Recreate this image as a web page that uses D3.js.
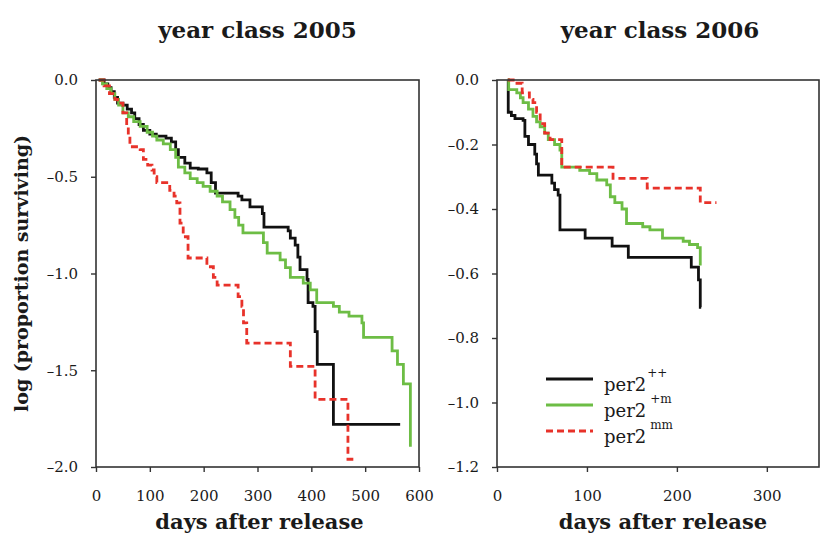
<!DOCTYPE html>
<html>
<head>
<meta charset="utf-8">
<script src="https://cdn.jsdelivr.net/npm/d3@7"></script>
<style>
  html, body { margin: 0; padding: 0; background: #fff; }
  svg { display: block; }
  text { font-family: "DejaVu Serif", "Liberation Serif", serif; fill: #1a1a1a; }
</style>
</head>
<body>
<svg id="chart" width="821" height="541"></svg>
<script>
// ---------- DATA ----------
const panelTitles = ["year class 2005", "year class 2006"];
const xLabel = "days after release";
const yLabel = "log (proportion surviving)";

const xTicks2005 = [0, 100, 200, 300, 400, 500, 600];
const yTicks2005 = [0.0, -0.5, -1.0, -1.5, -2.0];
const xTicks2006 = [0, 100, 200, 300];
const yTicks2006 = [0.0, -0.2, -0.4, -0.6, -0.8, -1.0, -1.2];

const seriesNames = ["++", "+m", "mm"];

// year class 2005 : [day, log proportion surviving] (step after)
const wt2005 = [[5,0],[15,-0.02],[22,-0.04],[28,-0.06],[34,-0.09],[40,-0.12],[50,-0.13],[58,-0.15],[66,-0.17],[72,-0.2],[80,-0.23],[88,-0.26],[100,-0.28],[112,-0.29],[130,-0.30],[140,-0.32],[148,-0.36],[153,-0.40],[165,-0.43],[175,-0.455],[190,-0.46],[206,-0.48],[214,-0.53],[222,-0.585],[264,-0.60],[271,-0.62],[286,-0.656],[309,-0.69],[312,-0.76],[357,-0.78],[361,-0.817],[370,-0.853],[375,-0.915],[379,-0.98],[392,-1.03],[394,-1.15],[403,-1.17],[407,-1.30],[411,-1.47],[441,-1.78],[565,-1.78]];
const het2005 = [[5,0],[12,-0.02],[20,-0.045],[28,-0.07],[35,-0.10],[42,-0.13],[50,-0.17],[60,-0.19],[70,-0.215],[82,-0.24],[95,-0.27],[105,-0.29],[113,-0.31],[125,-0.33],[138,-0.36],[148,-0.40],[153,-0.45],[165,-0.48],[175,-0.51],[188,-0.53],[199,-0.55],[212,-0.575],[225,-0.6],[235,-0.63],[249,-0.67],[258,-0.71],[265,-0.75],[273,-0.79],[311,-0.84],[318,-0.895],[342,-0.93],[352,-0.97],[361,-1.02],[385,-1.05],[398,-1.085],[410,-1.15],[441,-1.17],[452,-1.20],[470,-1.22],[494,-1.255],[497,-1.33],[550,-1.40],[560,-1.47],[571,-1.57],[584,-1.895]];
const mut2005 = [[5,0],[15,-0.03],[25,-0.07],[35,-0.10],[40,-0.12],[50,-0.17],[57,-0.24],[60,-0.29],[63,-0.345],[82,-0.36],[88,-0.41],[96,-0.44],[104,-0.465],[108,-0.50],[113,-0.53],[137,-0.57],[145,-0.60],[150,-0.635],[156,-0.74],[162,-0.81],[171,-0.92],[206,-0.965],[218,-1.02],[225,-1.06],[264,-1.12],[271,-1.17],[274,-1.255],[280,-1.36],[361,-1.48],[407,-1.65],[468,-1.96],[478,-1.96]];

// year class 2006
const wt2006 = [[12,0],[12.5,-0.10],[16,-0.11],[20,-0.12],[29,-0.125],[31,-0.175],[35,-0.20],[42,-0.23],[44,-0.26],[46,-0.295],[61,-0.32],[64,-0.34],[68,-0.357],[70,-0.465],[98,-0.49],[128,-0.515],[146,-0.55],[216,-0.58],[224,-0.62],[226,-0.705],[227,-0.705]];
const het2006 = [[12,0],[13,-0.03],[22,-0.04],[26,-0.055],[29,-0.07],[35,-0.09],[40,-0.113],[44,-0.13],[48,-0.145],[53,-0.165],[57,-0.185],[64,-0.20],[70,-0.217],[72,-0.27],[92,-0.28],[103,-0.29],[111,-0.31],[122,-0.325],[126,-0.362],[131,-0.38],[139,-0.40],[144,-0.445],[162,-0.455],[170,-0.465],[184,-0.49],[207,-0.50],[214,-0.51],[223,-0.52],[226,-0.575]];
const mut2006 = [[12,0],[18,-0.01],[28,-0.04],[36,-0.06],[40,-0.07],[44,-0.10],[48,-0.135],[53,-0.165],[59,-0.185],[72,-0.27],[129,-0.305],[167,-0.335],[226,-0.38],[244,-0.38]];

// ---------- STYLE ----------
const styles = {
  "++": { color: "#111111", dash: null },
  "+m": { color: "#6dbd45", dash: null },
  "mm": { color: "#e8322a", dash: "7,4" }
};

const svg = d3.select("#chart");
const yTop = 80, yBottom = 467;

const panels = [
  { title: panelTitles[0], x0: 96, x1: 419, xDomain: [0, 600], yDomain: [-2.0, 0], xTicks: xTicks2005, yTicks: yTicks2005,
    series: [["++", wt2005], ["+m", het2005], ["mm", mut2005]] },
  { title: panelTitles[1], x0: 497, x1: 819, xDomain: [0, 358], yDomain: [-1.2, 0], xTicks: xTicks2006, yTicks: yTicks2006,
    series: [["++", wt2006], ["+m", het2006], ["mm", mut2006]] }
];

panels.forEach((p, i) => {
  const x = d3.scaleLinear().domain(p.xDomain).range([p.x0, p.x1]);
  const y = d3.scaleLinear().domain(p.yDomain).range([yBottom, yTop]);
  const g = svg.append("g");

  const line = d3.line().x(d => x(d[0])).y(d => y(d[1])).curve(d3.curveStepAfter);
  p.series.forEach(([name, data]) => {
    const st = styles[name];
    g.append("path").datum(data)
      .attr("d", line)
      .attr("fill", "none")
      .attr("stroke", st.color)
      .attr("stroke-width", 2.8)
      .attr("stroke-dasharray", st.dash);
  });

  g.append("rect")
    .attr("x", p.x0).attr("y", yTop)
    .attr("width", p.x1 - p.x0).attr("height", yBottom - yTop)
    .attr("fill", "none").attr("stroke", "#333").attr("stroke-width", 1.6);

  const xAxis = d3.axisBottom(x).tickValues(p.xTicks).tickSize(5).tickPadding(18).tickFormat(d3.format("d"));
  const gx = g.append("g").attr("transform", `translate(0,${yBottom})`).call(xAxis);
  gx.select(".domain").remove();
  gx.selectAll(".tick line").attr("stroke", "#333").attr("stroke-width", 1.4);
  gx.selectAll(".tick text").attr("font-size", 15).attr("font-family", "DejaVu Serif").attr("fill", "#1a1a1a");

  const yAxis = d3.axisLeft(y).tickValues(p.yTicks).tickSize(5).tickPadding(13)
    .tickFormat(d => d3.format(".1f")(d).replace("-", "\u2013").replace("\u2212", "\u2013"));
  const gy = g.append("g").attr("transform", `translate(${p.x0},0)`).call(yAxis);
  gy.select(".domain").remove();
  gy.selectAll(".tick line").attr("stroke", "#333").attr("stroke-width", 1.4);
  gy.selectAll(".tick text").attr("font-size", 15).attr("font-family", "DejaVu Serif").attr("fill", "#1a1a1a");

  g.append("text").attr("x", (p.x0 + p.x1) / 2 + (i === 0 ? 0 : 2)).attr("y", 38)
    .attr("text-anchor", "middle").attr("font-weight", "bold").attr("font-size", 23)
    .text(p.title);

  g.append("text").attr("x", (p.x0 + p.x1) / 2 + (i === 0 ? 2 : 5)).attr("y", 529)
    .attr("text-anchor", "middle").attr("font-weight", "bold").attr("font-size", 21)
    .text(xLabel);
});

svg.append("text")
  .attr("transform", `translate(28,${(yTop + yBottom) / 2}) rotate(-90)`)
  .attr("text-anchor", "middle").attr("font-weight", "bold").attr("font-size", 19)
  .text(yLabel);

const legendY = [379, 405, 431];
const leg = svg.append("g");
seriesNames.forEach((name, k) => {
  const st = styles[name];
  leg.append("line")
    .attr("x1", 546).attr("x2", 593)
    .attr("y1", legendY[k]).attr("y2", legendY[k])
    .attr("stroke", st.color).attr("stroke-width", 2.8)
    .attr("stroke-dasharray", st.dash);
  const t = leg.append("text").attr("x", 604).attr("y", legendY[k] + 12).attr("font-size", 18);
  t.append("tspan").text("per2");
  t.append("tspan").attr("dx", name === "++" ? 1 : 4).attr("dy", -14).attr("font-size", 12).text(name);
});
</script>
</body>
</html>
